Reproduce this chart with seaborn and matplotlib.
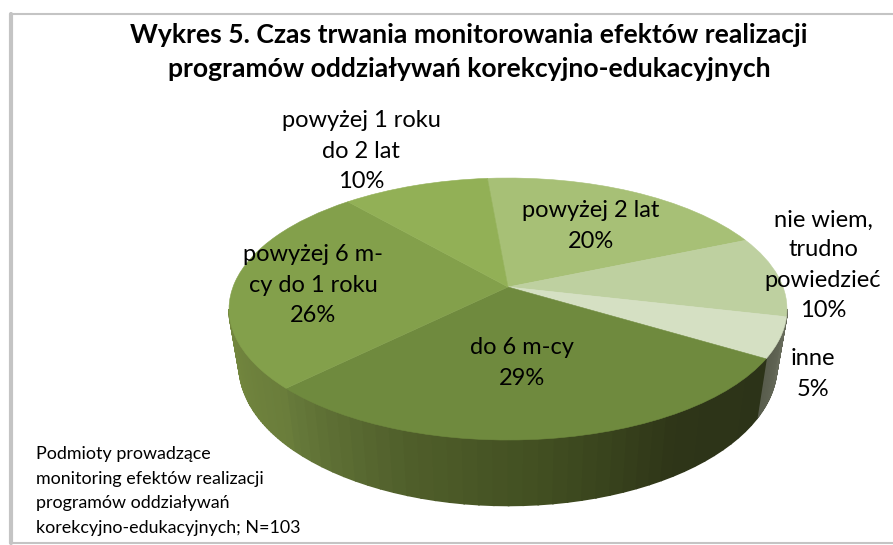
import numpy as np
import matplotlib
matplotlib.use("Agg")
import matplotlib.pyplot as plt
from matplotlib.lines import Line2D
from matplotlib.transforms import Transform
import seaborn as sns

# dane z wykresu
title = "Wykres 5. Czas trwania monitorowania efektów realizacji\nprogramów oddziaływań korekcyjno-edukacyjnych"
note = ("Podmioty prowadzące\nmonitoring efektów realizacji\n"
        "programów oddziaływań\nkorekcyjno-edukacyjnych; N=103")
labels = ["powyżej 2 lat\n20%", "nie wiem,\ntrudno\npowiedzieć\n10%", "inne\n5%",
          "do 6 m-cy\n29%", "powyżej 6 m-\ncy do 1 roku\n26%", "powyżej 1 roku\ndo 2 lat\n10%"]
shares = [20, 10, 5, 29, 26, 10]
top_colors = ["#a7c076", "#bed0a0", "#d5e0c3", "#6f8a3e", "#83a04b", "#92b056"]
side_colors = [
    ["#8a9c60", "#8a9c60"],
    ["#6b6e5e", "#6b6e5e"],
    ["#585c4c", "#666a5a"],
    ["#66793a", "#505f2b", "#414e21", "#2e3518", "#2c3318"],
    ["#75893f", "#6a7d3b"],
    ["#92b056", "#92b056"],
]
label_pos = [(591, 226), (823, 265), (813, 374), (522, 363), (313, 285), (361, 151)]

# geometria rzutu 3D
CX, TILT = 508, 0.168
TOP = (287, 275, 127.3)
BOTTOM = (342, 265, 136)


def project(u, v, face):
    cy, rx, ry = face
    w = 1 + TILT * v
    return CX + rx * u / w, cy - ry * v / w


class TiltTransform(Transform):
    input_dims = 2
    output_dims = 2

    def transform_non_affine(self, values):
        x, y = project(values[:, 0], values[:, 1], TOP)
        return np.column_stack([x, y])


sns.set_theme(style="white")
plt.rcParams["font.family"] = ["Lato", "DejaVu Sans"]

fig, ax = plt.subplots(figsize=(8.93, 5.45), dpi=100)
fig.subplots_adjust(0, 0, 1, 1)

wedges, _ = ax.pie(shares, colors=top_colors, startangle=95, counterclock=False)
ax.set_aspect("auto")
ax.set_xlim(0, 893)
ax.set_ylim(545, 0)
ax.axis("off")

limit = np.degrees(np.arcsin(TILT))
for wedge, colors in zip(wedges, side_colors):
    wedge.set_transform(TiltTransform() + ax.transData)
    wedge.set_edgecolor(wedge.get_facecolor())
    wedge.set_linewidth(0.4)
    wedge.set_zorder(3)

    # bok kawałka, tylko widoczna część
    lo = max(wedge.theta1, -180 + limit)
    hi = min(wedge.theta2, -limit)
    if lo >= hi:
        continue
    steps = np.linspace(lo, hi, 40)
    palette = sns.blend_palette(colors, len(steps) - 1)
    for a, b, c in zip(steps[:-1], steps[1:], palette):
        t = np.radians([a, b])
        x1, y1 = project(np.cos(t), np.sin(t), TOP)
        x2, y2 = project(np.cos(t), np.sin(t), BOTTOM)
        ax.fill(np.r_[x1, x2[::-1]], np.r_[y1, y2[::-1]], color=c, lw=1.2, zorder=2)

for text, (x, y) in zip(labels, label_pos):
    ax.text(x, y, text, ha="center", va="center", fontsize=17, color="black",
            linespacing=1.53, zorder=4)

ax.text(469, 52, title, ha="center", va="center", fontsize=19.1, fontweight="bold",
        color="black", linespacing=1.48)
ax.text(36, 491, note, ha="left", va="center", fontsize=12.9, color="black", linespacing=1.65)

# ramka wykresu
border = "#c4c4c4"
fig.add_artist(Line2D([11 / 893, 11 / 893], [2 / 545, 531 / 545], color=border, lw=3))
fig.add_artist(Line2D([10 / 893, 1], [531 / 545, 531 / 545], color=border, lw=1.5))
fig.add_artist(Line2D([10 / 893, 1], [2 / 545, 2 / 545], color=border, lw=1.5))

fig.savefig("out.png", dpi=100)
